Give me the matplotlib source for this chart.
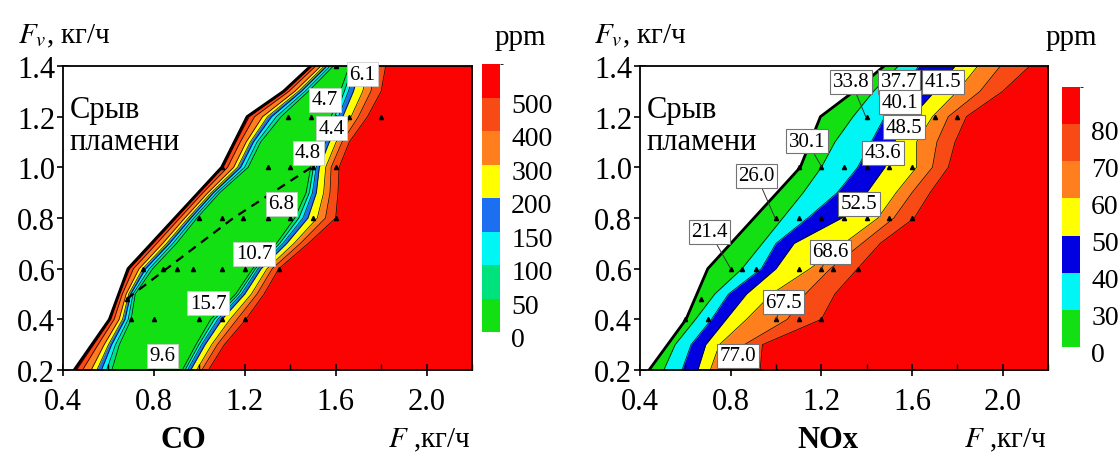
import numpy as np
import matplotlib
matplotlib.use("Agg")
import matplotlib.pyplot as plt
import matplotlib.transforms as mtransforms
from matplotlib import font_manager as fm
from matplotlib.colors import ListedColormap, BoundaryNorm
from matplotlib.cm import ScalarMappable
from matplotlib.ticker import MultipleLocator


def find_serif(bold=False):
    want = 700 if bold else 400
    for f in fm.fontManager.ttflist:
        if f.name == "Liberation Serif" and f.style == "normal" and f.weight == want:
            return f.fname
    return fm.findfont(fm.FontProperties(family="DejaVu Serif",
                                         weight="bold" if bold else "normal"))


SERIF_FILE = find_serif()
SERIF_BOLD_FILE = find_serif(bold=True)
plt.rcParams["font.family"] = "serif"
plt.rcParams["font.serif"] = ["Liberation Serif", "DejaVu Serif"]
plt.rcParams["mathtext.fontset"] = "stix"


def fp(size, bold=False):
    return fm.FontProperties(fname=SERIF_BOLD_FILE if bold else SERIF_FILE, size=size)


# строки по расходу Fv, кг/ч
fv_rows = [0.2, 0.3, 0.4, 0.5, 0.6, 0.7, 0.8, 0.9, 1.0, 1.1, 1.2, 1.3, 1.4]

# граница срыва пламени
co_edge_f = [0.449, 0.604, 0.686, 1.098, 1.210, 1.370, 1.490]
co_edge_fv = [0.2, 0.4, 0.6, 1.0, 1.2, 1.3, 1.4]
nox_edge_f = [0.440, 0.603, 0.699, 1.107, 1.196, 1.344, 1.477]
nox_edge_fv = [0.2, 0.4, 0.6, 1.0, 1.2, 1.3, 1.4]

# CO: положение изолиний (F) слева и справа от минимума, по строкам fv_rows
co_l500 = [0.459, 0.534, 0.610, 0.649, 0.693, 0.796, 0.898, 1.001, 1.105, 1.161, 1.219, 1.377, 1.496]
co_l400 = [0.486, 0.554, 0.625, 0.661, 0.710, 0.813, 0.914, 1.016, 1.124, 1.180, 1.243, 1.394, 1.512]
co_l300 = [0.524, 0.581, 0.647, 0.678, 0.735, 0.839, 0.936, 1.038, 1.151, 1.206, 1.278, 1.420, 1.535]
co_l200 = [0.549, 0.600, 0.662, 0.689, 0.751, 0.856, 0.951, 1.052, 1.168, 1.224, 1.300, 1.436, 1.550]
co_l150 = [0.569, 0.614, 0.673, 0.698, 0.764, 0.869, 0.963, 1.063, 1.182, 1.238, 1.318, 1.449, 1.562]
co_l100 = [0.592, 0.631, 0.687, 0.708, 0.780, 0.884, 0.976, 1.077, 1.199, 1.254, 1.339, 1.465, 1.576]
co_l50 = [0.615, 0.648, 0.700, 0.718, 0.795, 0.900, 0.990, 1.090, 1.215, 1.270, 1.360, 1.480, 1.590]
co_r50 = [0.925, 0.985, 1.050, 1.160, 1.235, 1.340, 1.420, 1.470, 1.490, 1.530, 1.580, 1.620, 1.660]
co_r100 = [0.937, 0.998, 1.066, 1.173, 1.247, 1.354, 1.438, 1.484, 1.502, 1.543, 1.596, 1.638, 1.676]
co_r150 = [0.948, 1.010, 1.081, 1.185, 1.258, 1.368, 1.456, 1.498, 1.514, 1.556, 1.612, 1.656, 1.692]
co_r200 = [0.962, 1.025, 1.100, 1.200, 1.272, 1.385, 1.478, 1.515, 1.528, 1.572, 1.631, 1.678, 1.711]
co_r300 = [0.988, 1.054, 1.135, 1.229, 1.298, 1.417, 1.519, 1.547, 1.556, 1.602, 1.668, 1.719, 1.748]
co_r400 = [1.011, 1.079, 1.166, 1.254, 1.321, 1.445, 1.555, 1.575, 1.580, 1.628, 1.700, 1.755, 1.780]
co_r500 = [1.040, 1.110, 1.205, 1.285, 1.350, 1.480, 1.600, 1.610, 1.615, 1.660, 1.740, 1.800, 1.820]

# NOx: изолинии 30..80 ppm
nox_c30 = [0.505, 0.555, 0.645, 0.730, 0.850, 0.940, 1.030, 1.120, 1.200, 1.260, 1.340, 1.430, 1.540]
nox_c40 = [0.585, 0.625, 0.715, 0.790, 0.935, 1.000, 1.140, 1.270, 1.360, 1.420, 1.480, 1.550, 1.630]
nox_c50 = [0.655, 0.690, 0.780, 0.870, 1.000, 1.080, 1.290, 1.400, 1.480, 1.520, 1.600, 1.700, 1.790]
nox_c60 = [0.710, 0.750, 0.870, 0.980, 1.150, 1.300, 1.450, 1.530, 1.620, 1.620, 1.690, 1.800, 1.890]
nox_c70 = [0.760, 0.860, 1.050, 1.130, 1.240, 1.380, 1.520, 1.600, 1.690, 1.710, 1.760, 1.900, 1.990]
nox_c80 = [0.930, 0.940, 1.200, 1.260, 1.360, 1.460, 1.610, 1.680, 1.760, 1.790, 1.840, 2.000, 2.120]

co_ticks = [0, 50, 100, 150, 200, 300, 400, 500]
co_colors = ["#12e012", "#00e37c", "#00f5f5", "#1c6ff0", "#ffff00", "#ff7e1e", "#f84a14", "#fb0303"]
nox_ticks = [0, 30, 40, 50, 60, 70, 80]
nox_colors = ["#12e012", "#00f5f5", "#0000e0", "#ffff00", "#ff7e1e", "#f84a14", "#fb0303"]

# точки измерений
co_pts_f = [0.70, 0.80, 1.00, 1.10, 1.20, 0.68, 0.75, 0.84, 0.90, 0.97, 1.10, 1.20, 1.35,
            1.00, 1.10, 1.19, 1.30, 1.40, 1.50, 1.60, 1.10, 1.30, 1.40, 1.50, 1.60,
            1.39, 1.49, 1.60, 1.66, 1.80, 1.60, 1.67]
co_pts_fv = [0.4, 0.4, 0.4, 0.4, 0.4, 0.48, 0.6, 0.6, 0.6, 0.6, 0.6, 0.6, 0.6,
             0.8, 0.8, 0.8, 0.8, 0.8, 0.8, 0.8, 1.0, 1.0, 1.0, 1.0, 1.0,
             1.2, 1.2, 1.2, 1.2, 1.2, 1.4, 1.4]
nox_pts_f = [0.60, 0.70, 1.00, 1.10, 1.20, 0.67, 0.80, 0.85, 0.91, 1.10, 1.20, 1.25, 1.36,
             1.00, 1.10, 1.20, 1.30, 1.40, 1.50, 1.60, 1.10, 1.20, 1.30, 1.40, 1.50, 1.60,
             1.40, 1.70, 1.80]
nox_pts_fv = [0.4, 0.4, 0.4, 0.4, 0.4, 0.48, 0.6, 0.6, 0.6, 0.6, 0.6, 0.6, 0.6,
              0.8, 0.8, 0.8, 0.8, 0.8, 0.8, 0.8, 1.0, 1.0, 1.0, 1.0, 1.0, 1.0,
              1.2, 1.2, 1.2]

co_dash_f = [0.68, 1.15, 1.51]
co_dash_fv = [0.48, 0.80, 1.01]

co_lab = ["6.1", "4.7", "4.4", "4.8", "6.8", "10.7", "15.7", "9.6"]
co_lab_f = [1.716, 1.553, 1.582, 1.479, 1.360, 1.241, 1.039, 0.839]
co_lab_fv = [1.368, 1.267, 1.154, 1.058, 0.857, 0.659, 0.464, 0.257]

nox_lab = ["33.8", "37.7", "41.5", "40.1", "48.5", "43.6", "30.1", "26.0", "21.4", "52.5", "68.6", "67.5", "77.0"]
nox_lab_f = [1.332, 1.544, 1.736, 1.548, 1.566, 1.473, 1.136, 0.914, 0.707, 1.366, 1.240, 1.033, 0.833]
nox_lab_fv = [1.337, 1.337, 1.337, 1.257, 1.158, 1.058, 1.102, 0.967, 0.745, 0.857, 0.666, 0.468, 0.257]
nox_ptr_f = [1.396, None, None, None, None, None, 1.203, 0.996, 0.800, None, 1.200, 1.000, None]
nox_ptr_fv = [1.200, None, None, None, None, None, 1.000, 0.800, 0.600, None, 0.600, 0.400, None]

W, H = 1120, 456
FS = 22


def setup_axes(ax):
    ax.set_xlim(0.4, 2.2)
    ax.set_ylim(0.2, 1.4)
    ax.xaxis.set_major_locator(MultipleLocator(0.4))
    ax.xaxis.set_minor_locator(MultipleLocator(0.2))
    ax.yaxis.set_major_locator(MultipleLocator(0.2))
    ax.yaxis.set_minor_locator(MultipleLocator(0.1))
    ax.tick_params(which="major", direction="inout", length=9, width=1.2, labelsize=FS)
    ax.tick_params(axis="x", which="major", pad=8)
    ax.tick_params(axis="y", which="major", pad=1)
    ax.tick_params(which="minor", direction="in", length=4, width=1.0)
    for lab in ax.get_xticklabels() + ax.get_yticklabels():
        lab.set_fontproperties(fp(FS))
    for s in ax.spines.values():
        s.set_linewidth(1.3)


def blank_and_edge(ax, ef, efv):
    xs = np.r_[0.3, ef, 0.3]
    ys = np.r_[0.2, efv, 1.4]
    ax.fill(xs, ys, color="white", lw=0, zorder=2)
    ax.plot(ef, efv, color="black", lw=2.0, zorder=3, solid_capstyle="round")


def srv_text(ax):
    ax.text(0.017, 0.905, "Срыв\nпламени", transform=ax.transAxes, fontproperties=fp(FS),
            ha="left", va="top", linespacing=1.15, zorder=4)


def add_cbar(fig, rect, colors, ticks):
    cax = fig.add_axes(rect)
    bounds = ticks + [ticks[-1] + (ticks[-1] - ticks[-2])]
    cmap = ListedColormap(colors)
    norm = BoundaryNorm(bounds, cmap.N)
    cb = fig.colorbar(ScalarMappable(norm=norm, cmap=cmap), cax=cax,
                      ticks=ticks, spacing="uniform")
    cb.outline.set_visible(False)
    cax.tick_params(length=0, pad=8)
    off = mtransforms.ScaledTranslation(0, -5 / 100, fig.dpi_scale_trans)
    for lab in cax.get_yticklabels():
        lab.set_fontproperties(fp(20))
        lab.set_transform(lab.get_transform() + off)
    return cb


def main():
    fig = plt.figure(figsize=(W / 100, H / 100), dpi=100)
    rows = np.array(fv_rows)

    # ---- CO ----
    ax1 = fig.add_axes([63 / W, 1 - 371 / H, 409 / W, 304 / H])
    ax1.fill_betweenx(rows, 0.3, 2.3, color=co_colors[-1], lw=0, zorder=1)
    left = [co_l500, co_l400, co_l300, co_l200, co_l150, co_l100, co_l50]
    right = [co_r500, co_r400, co_r300, co_r200, co_r150, co_r100, co_r50]
    for k, (lo, hi) in enumerate(zip(left, right)):
        ax1.fill_betweenx(rows, lo, hi, color=co_colors[6 - k], lw=0, zorder=1)
        ax1.plot(lo, rows, color="black", lw=0.5, zorder=1.5)
        ax1.plot(hi, rows, color="black", lw=0.5, zorder=1.5)
    blank_and_edge(ax1, co_edge_f, co_edge_fv)
    ax1.plot(co_dash_f, co_dash_fv, color="black", lw=1.6, ls=(0, (4, 3)), zorder=3)
    ax1.plot(co_pts_f, co_pts_fv, "^", color="black", ms=3, zorder=3)
    for t, x, y in zip(co_lab, co_lab_f, co_lab_fv):
        ax1.text(x, y, t, ha="center", va="center", fontproperties=fp(15), zorder=5,
                 bbox=dict(boxstyle="square,pad=0.12", fc="white", ec="0.8", lw=0.6))
    srv_text(ax1)
    setup_axes(ax1)

    # ---- NOx ----
    ax2 = fig.add_axes([640 / W, 1 - 371 / H, 408 / W, 304 / H])
    ax2.fill_betweenx(rows, 0.3, 2.3, color=nox_colors[0], lw=0, zorder=1)
    bands = [nox_c30, nox_c40, nox_c50, nox_c60, nox_c70, nox_c80]
    for k, lo in enumerate(bands):
        ax2.fill_betweenx(rows, lo, 2.3, color=nox_colors[k + 1], lw=0, zorder=1)
        ax2.plot(lo, rows, color="black", lw=0.5, zorder=1.5)
    blank_and_edge(ax2, nox_edge_f, nox_edge_fv)
    ax2.plot(nox_pts_f, nox_pts_fv, "^", color="black", ms=3, zorder=3)
    for t, x, y, px, py in zip(nox_lab, nox_lab_f, nox_lab_fv, nox_ptr_f, nox_ptr_fv):
        box = dict(boxstyle="square,pad=0.12", fc="white", ec="0.45", lw=0.8)
        if px is None:
            ax2.text(x, y, t, ha="center", va="center", fontproperties=fp(15),
                     zorder=5, bbox=box)
        else:
            ax2.annotate(t, xy=(px, py), xytext=(x, y), ha="center", va="center",
                         fontproperties=fp(15), zorder=5, bbox=box,
                         arrowprops=dict(arrowstyle="-", lw=0.7, color="0.2",
                                         shrinkA=0, shrinkB=0))
    srv_text(ax2)
    setup_axes(ax2)

    add_cbar(fig, [482 / W, 1 - 333 / H, 18 / W, 268 / H], co_colors, co_ticks)
    add_cbar(fig, [1062 / W, 1 - 348 / H, 18 / W, 260 / H], nox_colors, nox_ticks)

    # подписи осей и заголовки
    for x0 in (18, 594):
        fig.text(x0 / W, 1 - 43 / H, r"$F_v$, кг/ч", fontproperties=fp(21), va="baseline")
    for x0 in (495, 1046):
        fig.text(x0 / W, 1 - 45 / H, "ppm", fontproperties=fp(21), va="baseline")
    for x0 in (471, 1047):
        fig.text(x0 / W, 1 - 447 / H, r"$F$ ,кг/ч", fontproperties=fp(21),
                 ha="right", va="baseline")
    fig.text(183 / W, 1 - 448 / H, "CO", fontproperties=fp(22, bold=True),
             ha="center", va="baseline")
    fig.text(828 / W, 1 - 448 / H, "NOx", fontproperties=fp(22, bold=True),
             ha="center", va="baseline")

    fig.savefig("out.png", dpi=100)


if __name__ == "__main__":
    main()
